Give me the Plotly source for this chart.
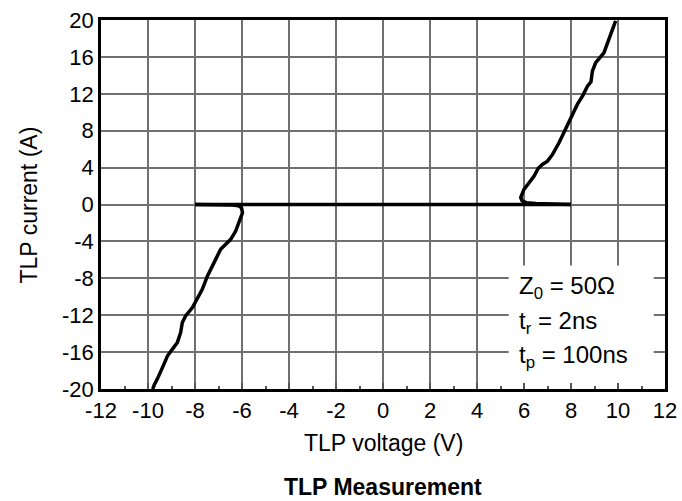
import plotly.graph_objects as go

# ---- data ----
off_v = [-8.0, 8.0]
off_i = [0.0, 0.0]

pos_v = [8.0, 7.5, 7.0, 6.5, 6.1, 5.92, 5.86, 6.0, 6.2, 6.43, 6.6, 6.78, 7.0, 7.21,
         7.49, 7.7, 7.91, 8.1, 8.27, 8.5, 8.70, 8.85, 8.91, 9.05, 9.2, 9.40, 9.61, 9.76, 9.90]
pos_i = [0.0, 0.02, 0.05, 0.1, 0.2, 0.4, 0.76, 1.63, 2.3, 3.07, 3.9, 4.34, 4.7, 5.42,
         6.69, 7.8, 8.86, 9.9, 10.85, 11.8, 12.83, 13.3, 14.46, 15.37, 15.8, 16.45, 17.9, 18.98, 19.9]

neg_v = [-8.0, -7.0, -6.4, -6.15, -6.02, -5.98, -6.13, -6.27, -6.48, -6.62, -6.91, -7.12,
         -7.33, -7.47, -7.69, -7.9, -8.11, -8.40, -8.54, -8.61, -8.75, -8.96, -9.17, -9.32,
         -9.46, -9.60, -9.74, -9.80]
neg_i = [0.0, -0.02, -0.05, -0.15, -0.36, -0.9, -1.98, -2.88, -3.78, -4.14, -4.86, -5.95,
         -7.03, -7.75, -9.19, -10.27, -11.17, -12.07, -12.79, -13.87, -14.95, -15.68, -16.4, -17.3,
         -18.2, -18.9, -19.6, -20.0]

x_ticks = [-12, -10, -8, -6, -4, -2, 0, 2, 4, 6, 8, 10, 12]
y_ticks = [-20, -16, -12, -8, -4, 0, 4, 8, 12, 16, 20]

notes = ["Z<sub>0</sub> = 50Ω", "t<sub>r</sub> = 2ns", "t<sub>p</sub> = 100ns"]
note_y = [-9.0, -12.8, -16.5]

FONT = "Liberation Sans, Arial, sans-serif"

fig = go.Figure()
line = dict(color="black", width=3.5)
for xs, ys in [(off_v, off_i), (pos_v, pos_i), (neg_v, neg_i)]:
    fig.add_trace(go.Scatter(x=xs, y=ys, mode="lines", line=line, showlegend=False,
                             hoverinfo="skip"))

# white box behind the parameter text (covers grid lines)
fig.add_shape(type="rect", xref="x", yref="y", x0=5.35, x1=11.52, y0=-20, y1=-6.6,
              fillcolor="white", line=dict(width=0), layer="between")

for t, yy in zip(notes, note_y):
    fig.add_annotation(x=5.72, y=yy, xref="x", yref="y", text=t, showarrow=False,
                       xanchor="left", yanchor="middle",
                       font=dict(family=FONT, size=24, color="black"))

fig.add_annotation(x=-0.1277, y=0.5, xref="paper", yref="paper", text="TLP current (A)",
                   textangle=-90, showarrow=False, xanchor="center", yanchor="middle",
                   font=dict(family=FONT, size=23, color="black"))
fig.add_annotation(x=0.5, y=-0.146, xref="paper", yref="paper", text="TLP voltage (V)",
                   showarrow=False, xanchor="center", yanchor="middle",
                   font=dict(family=FONT, size=23, color="black"))
fig.add_annotation(x=0.5, y=-0.2656, xref="paper", yref="paper", text="<b>TLP Measurement</b>",
                   showarrow=False, xanchor="center", yanchor="middle",
                   font=dict(family=FONT, size=23, color="black"))

fig.update_xaxes(range=[-12, 12], tickvals=x_ticks, ticktext=[str(v) for v in x_ticks],
                 showgrid=True, gridcolor="#707070", gridwidth=1.5, zeroline=False,
                 showline=True, linecolor="black", linewidth=2.5, mirror=True,
                 ticks="inside", ticklen=6, tickcolor="#555", tickwidth=1.5,
                 minor=dict(ticks="inside", ticklen=3, dtick=1, tick0=0,
                            tickcolor="#555", showgrid=False),
                 automargin=False,
                 tickfont=dict(family=FONT, size=22, color="black"))
fig.update_yaxes(range=[-20, 20], tickvals=y_ticks, ticktext=[str(v) for v in y_ticks],
                 showgrid=True, gridcolor="#707070", gridwidth=1.5, zeroline=False,
                 showline=True, linecolor="black", linewidth=2.5, mirror=True,
                 ticks="", automargin=False,
                 tickfont=dict(family=FONT, size=22, color="black"))

fig.update_layout(width=682, height=501, margin=dict(l=101, r=17, t=20, b=112, autoexpand=False),
                  plot_bgcolor="white", paper_bgcolor="white")

fig.write_html("out.html", config={"displayModeBar": False},
               post_script="document.body.style.margin='0';document.body.style.overflow='hidden';")
